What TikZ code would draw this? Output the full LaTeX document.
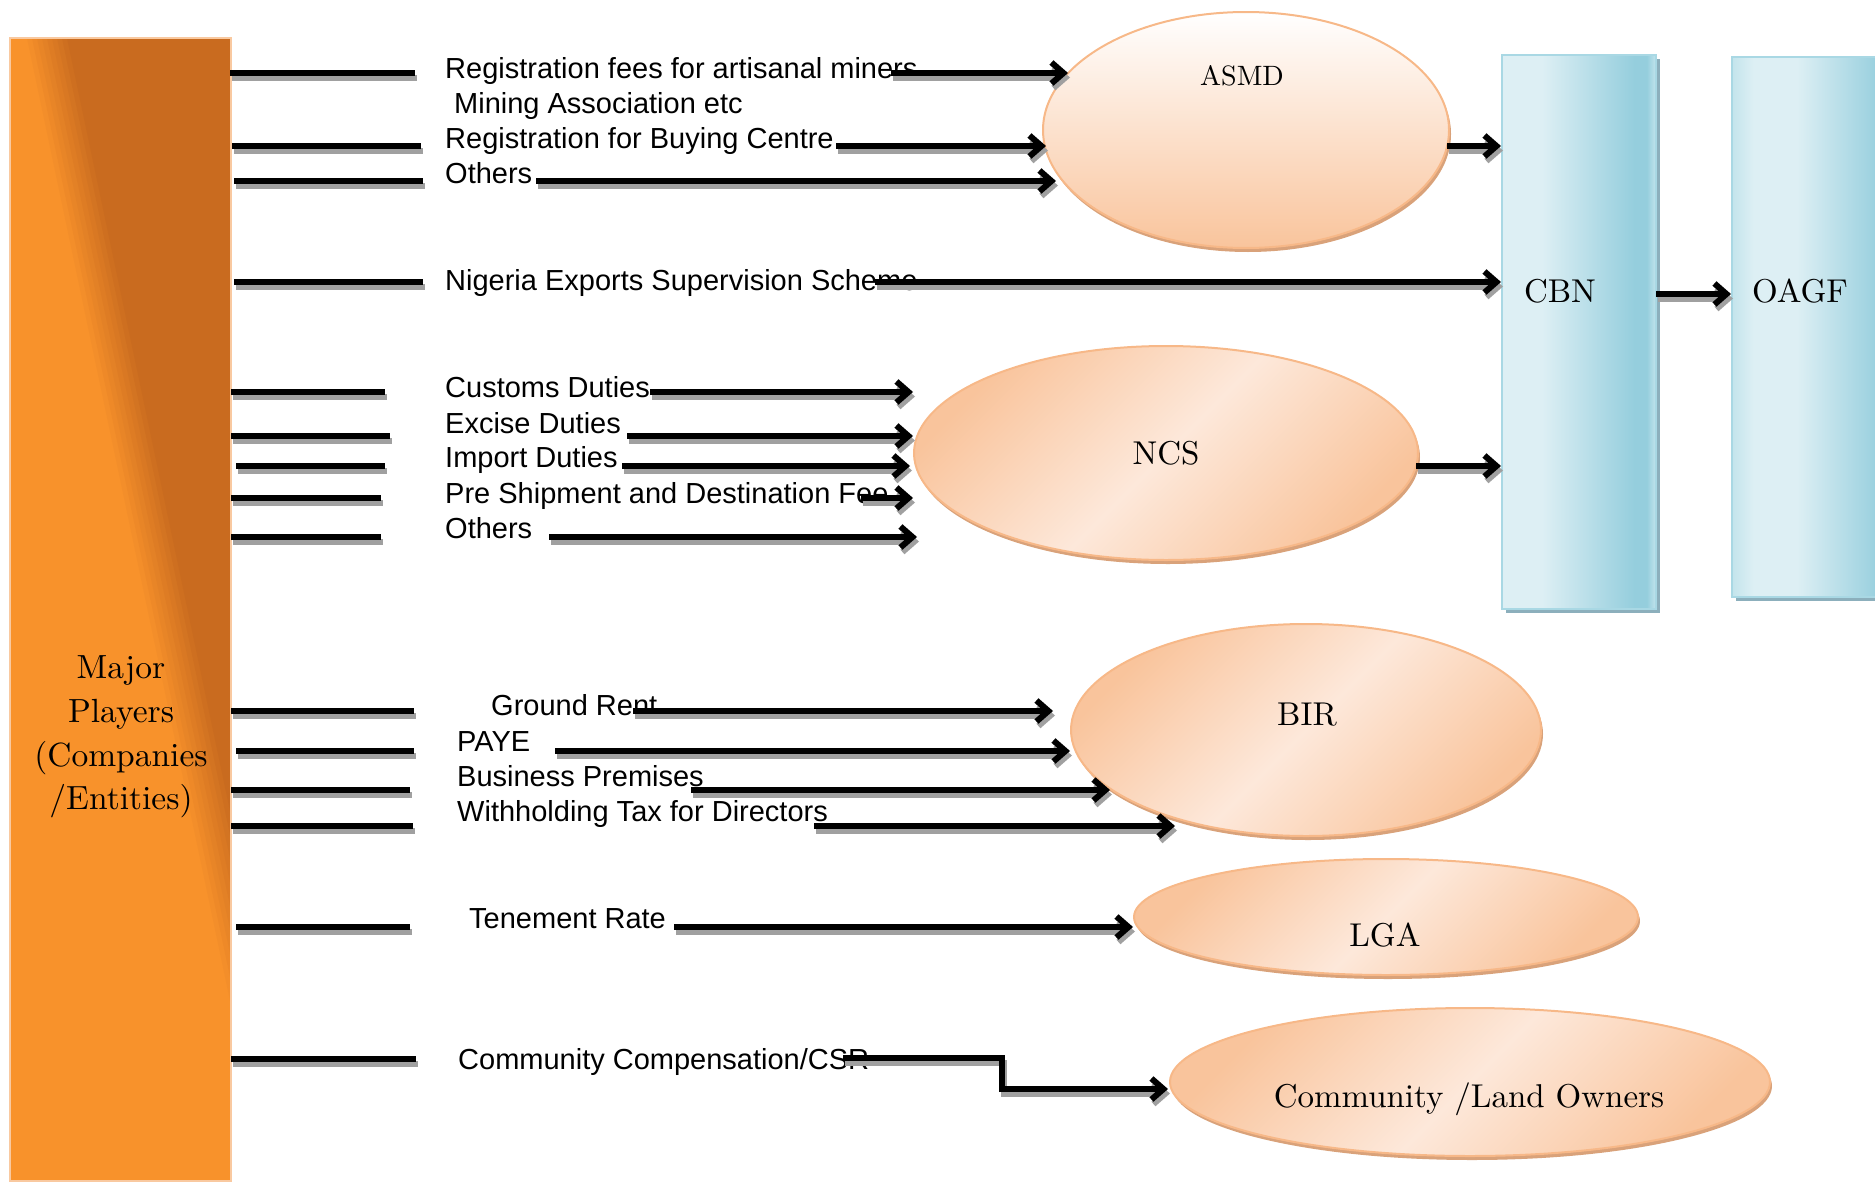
\documentclass[tikz,border=0pt]{standalone}
\usepackage{fontspec}
\newfontfamily\lsans{Liberation Sans}
\newfontfamily\lmten{lmroman10-regular.otf}
\usetikzlibrary{arrows.meta,shapes.geometric}
\definecolor{orA}{HTML}{F8922B}
\definecolor{orB}{HTML}{C96B1F}
\definecolor{orE}{HTML}{F9C9A0}
\definecolor{peachD}{HTML}{F9C49C}
\definecolor{peachL}{HTML}{FDE8DA}
\definecolor{peachB}{HTML}{F7B888}
\definecolor{peachS}{HTML}{D9A27A}
\definecolor{blueL}{HTML}{DDEFF4}
\definecolor{blueD}{HTML}{95CEDD}
\definecolor{blueM}{HTML}{C3E4EC}
\definecolor{blueB}{HTML}{A9D8E4}
\definecolor{blueS}{HTML}{8CAFBC}
\definecolor{shd}{HTML}{A0A0A0}
\pgfdeclarehorizontalshading{blsh}{100bp}{color(0bp)=(blueL); color(25bp)=(blueL); color(38bp)=(blueL); color(68bp)=(blueD); color(72bp)=(blueD); color(75bp)=(blueM); color(100bp)=(blueM)}
\pgfdeclarehorizontalshading{blshb}{100bp}{color(0bp)=(blueM); color(25bp)=(blueM); color(32bp)=(blueL); color(46bp)=(blueL); color(74bp)=(blueD); color(100bp)=(blueD)}
\begin{document}
\begin{tikzpicture}[x=1pt,y=-1pt,
  lbl/.style={font=\lsans\fontsize{29}{34}\selectfont, anchor=base west, inner sep=0pt},
  olbl/.style={font=\lmten\fontsize{33}{40}\selectfont, anchor=base, inner sep=0pt},
  thk/.style={line width=6pt, draw=black, preaction={draw=shd, line width=6pt, transform canvas={shift={(2pt,-4.5pt)}}}},
  arr/.style={thk, -{Straight Barb[length=12pt,width=21pt]}},
  ellbase/.style={ellipse, inner sep=0pt, draw=peachB, line width=2pt, preaction={fill=peachS, transform canvas={shift={(2pt,-4pt)}}}},
  elld/.style={ellbase, left color=peachD, right color=peachD, middle color=peachL, shading angle=45},
  blkbase/.style={rectangle, inner sep=0pt, draw=blueB, line width=2pt, preaction={fill=blueS, transform canvas={shift={(4pt,-4pt)}}}},
]
\useasboundingbox (0,0) rectangle (1875,1183);

% Major players box
\begin{scope}
\clip (10,38) rectangle (231,1181);
\fill[orA] (10,38) rectangle (231,1181);
\foreach \k in {0,...,8}{
  \pgfmathsetmacro\xa{27+5*\k}
  \pgfmathsetmacro\xb{27+5*\k+0.2109*1143}
  \pgfmathsetmacro\c{11.1*(\k+1)}
  \fill[orB!\c!orA] (\xa,38) -- (\xb,1181) -- (700,1181) -- (700,38) -- cycle;
}
\end{scope}
\node[draw=orE, line width=2pt, minimum width=221pt, minimum height=1143pt, inner sep=0pt] (mp) at (120.5,609.5) {};
\node[font=\lmten\fontsize{33.5}{43.6}\selectfont, align=center, inner sep=0pt] (mpl) at (121,737) {Major\\Players\\(Companies\\/Entities)};

% receivers
\node[ellbase, top color=white, bottom color=peachD, minimum width=406pt, minimum height=236pt] (asmd) at (1246,130) {};
\node[elld, minimum width=504pt, minimum height=214pt] (ncs) at (1166,453) {};
\node[elld, minimum width=470pt, minimum height=212pt] (bir) at (1306,730) {};
\node[elld, minimum width=504pt, minimum height=116pt] (lga) at (1386,917) {};
\node[elld, minimum width=600pt, minimum height=148pt] (clo) at (1470,1082) {};
\node[blkbase, shade, shading=blsh, minimum width=154pt, minimum height=554pt] (cbn) at (1579,332) {};
\node[blkbase, shade, shading=blshb, minimum width=154pt, minimum height=540pt] (oagf) at (1809,327) {};

\node[olbl, font=\lmten\fontsize{28}{34}\selectfont] (asmdl) at (1242,85) {ASMD};
\node[olbl] (ncsl) at (1166,464) {NCS};
\node[olbl] (birl) at (1307,725) {BIR};
\node[olbl] (lgal) at (1385,946) {LGA};
\node[olbl] (clol) at (1469,1107) {Community /Land Owners};
\node[olbl] (cbnl) at (1560,302) {CBN};
\node[olbl] (oagfl) at (1800,302) {OAGF};

% texts
\foreach \n/\x/\b/\t in {
  1/445/78/{Registration fees for artisanal miners},
  1m/454/113/{Mining Association etc},
  2/445/148/{Registration for Buying Centre},
  3/445/183/{Others},
  4/445/290/{Nigeria Exports Supervision Scheme},
  5/445/397/{Customs Duties},
  6/445/433/{Excise Duties},
  7/445/467/{Import Duties},
  8/445/503/{Pre Shipment and Destination Fee},
  9/445/538/{Others},
  10/491/715/{Ground Rent},
  11/457/751/{PAYE},
  12/457/786/{Business Premises},
  13/457/821/{Withholding Tax for Directors},
  14/469/928/{Tenement Rate},
  15/458/1069/{Community Compensation/CSR}}{
  \node[lbl] (t\n) at (\x,\b) {\t};
}

% stubs and arrows
\foreach \n/\y/\sa/\sb/\aa/\ab in {
  1/73/230/415/891/1068,
  2/146/232/421/836/1046,
  3/181/234/423/536/1056,
  5/392/231/385/650/913,
  6/436/231/390/627/913,
  7/466/236/385/622/910,
  8/498/231/381/861/913,
  9/537/231/381/549/917,
  10/711/231/414/633/1053,
  11/751/236/414/555/1070,
  12/790/231/410/691/1110,
  13/826/231/413/814/1175,
  14/927/236/410/674/1133}{
  \coordinate (s\n-a) at (\sa,\y);
  \coordinate (s\n-b) at (\sb,\y);
  \coordinate (a\n-a) at (\aa,\y);
  \coordinate (a\n-b) at (\ab,\y);
  \draw[thk] (s\n-a) -- (s\n-b);
  \draw[arr] (a\n-a) -- (a\n-b);
}
% row 4 to CBN
\coordinate (s4-a) at (234,282);
\coordinate (s4-b) at (423,282);
\coordinate (a4-a) at (875,282);
\draw[thk] (s4-a) -- (s4-b);
\draw[arr] (a4-a) -- (a4-a -| cbn.west);
% row 15 to community
\coordinate (s15-a) at (231,1059);
\coordinate (s15-b) at (416,1059);
\coordinate (a15-a) at (843,1058);
\coordinate (a15-c) at (1002,1058);
\coordinate (a15-b) at (1168,1089);
\draw[thk] (s15-a) -- (s15-b);
\draw[arr] (a15-a) -- (a15-c) |- (a15-b);
% to CBN and OAGF
\coordinate (asmd-o) at (1447,146);
\coordinate (ncs-o) at (1416,466);
\coordinate (cbn-o) at (1656,294);
\draw[arr] (asmd-o) -- (asmd-o -| cbn.west);
\draw[arr] (ncs-o) -- (ncs-o -| cbn.west);
\draw[arr] (cbn-o) -- (cbn-o -| oagf.west);
\end{tikzpicture}
\end{document}
